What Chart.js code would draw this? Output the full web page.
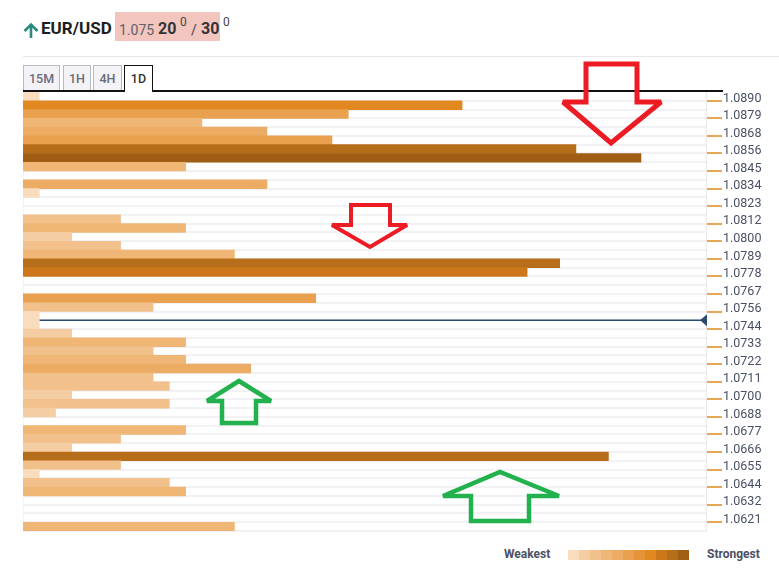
<!DOCTYPE html>
<html>
<head>
<meta charset="utf-8">
<script src="https://cdn.jsdelivr.net/npm/chart.js@4.4.0/dist/chart.umd.min.js"></script>
<style>
  body { margin: 0; background: #fff; font-family: Roboto, 'Noto Sans', sans-serif; }
  #wrap { position: relative; width: 779px; height: 569px; overflow: hidden; }
  .abs { position: absolute; line-height: 1; white-space: nowrap; }
  .tab { position: absolute; top: 65px; height: 25px; box-sizing: border-box; border: 1px solid #b9b9c2; border-bottom: none;
         background: #f2f2f7; color: #6c6c76; font-size: 12.5px; font-weight: 500; text-align: center; line-height: 25px; }
  .tab.on { background: #fff; border: 1.5px solid #111; border-bottom: none; color: #333; }
  #chart { position: absolute; left: 0; top: 0; z-index: 5; pointer-events: none; }
</style>
</head>
<body>
<div id="wrap">
  <svg class="abs" style="left:22px;top:22px" width="18" height="18" viewBox="0 0 18 18">
    <path d="M9 16 V3 M2.5 9 L9 2.5 L15.5 9" fill="none" stroke="#2a8a7b" stroke-width="2.6"/>
  </svg>
  <div class="abs" style="left:41px;top:20px;font-size:17px;font-weight:bold;color:#1d1d22">EUR/USD</div>
  <div class="abs" style="left:115px;top:12px;width:105px;height:29px;background:#f2c5bf"></div>
  <div class="abs" style="left:119px;top:22.5px;font-size:14px;color:#5f5f68">1.075</div>
  <div class="abs" style="left:158px;top:21px;font-size:16px;font-weight:bold;color:#333">20</div>
  <div class="abs" style="left:180px;top:16px;font-size:12px;color:#444">0</div>
  <div class="abs" style="left:191px;top:22.5px;font-size:14px;color:#444">/</div>
  <div class="abs" style="left:201px;top:21px;font-size:16px;font-weight:bold;color:#333">30</div>
  <div class="abs" style="left:223px;top:16px;font-size:12px;color:#444">0</div>

  <div class="abs" style="left:23px;top:56px;width:756px;height:1px;background:#e6e6ec"></div>

  <div class="tab" style="left:23px;width:37px">15M</div>
  <div class="tab" style="left:63px;width:28px">1H</div>
  <div class="tab" style="left:93px;width:29px">4H</div>
  <div class="tab on" style="left:124px;width:29px;height:27px">1D</div>
  <div class="abs" style="left:23px;top:90px;width:101px;height:1.5px;background:#111"></div>
  <div class="abs" style="left:152px;top:90px;width:571px;height:1.5px;background:#111"></div>

  <div class="abs" style="left:504px;top:548px;font-size:12px;font-weight:bold;color:#4a5064">Weakest</div>
  <div id="swatches" class="abs" style="left:568px;top:550px;height:10px;display:flex"></div>
  <div class="abs" style="left:707px;top:548px;font-size:12px;font-weight:bold;color:#4a5064">Strongest</div>

  <canvas id="chart" width="779" height="569"></canvas>
</div>
<script>
// price levels printed on the right axis, top to bottom
const priceLabels = ['1.0890', '1.0879', '1.0868', '1.0856', '1.0845', '1.0834', '1.0823', '1.0812', '1.0800',
  '1.0789', '1.0778', '1.0767', '1.0756', '1.0744', '1.0733', '1.0722', '1.0711', '1.0700', '1.0688',
  '1.0677', '1.0666', '1.0655', '1.0644', '1.0632', '1.0621'];

// confluence strength per row (two rows per printed level), top to bottom
const strength = [1, 27, 20, 11, 15, 19, 34, 38, 10, 0,
  15, 1, 0, 0, 6, 10, 3, 6, 13, 33,
  31, 0, 0, 18, 8, 1, 1, 3, 10, 8,
  10, 14, 8, 9, 3, 9, 2, 0, 10, 6,
  3, 36, 6, 1, 9, 10, 0, 0, 0, 13];

// level where the current price marker sits
const spotLevel = 1.0747;

// weakest -> strongest
const palette = ['#f8dcbd', '#f4cda3', '#f1c08b', '#efb676', '#edac63', '#e9a04f',
  '#e6943a', '#e28820', '#cc781a', '#b76e1a', '#a05e14'];

const rowLabels = strength.map((_, i) => i % 2 ? '' : priceLabels[i / 2]);
const maxStrength = Math.max(...strength);

const sw = document.getElementById('swatches');
palette.forEach(c => {
  const d = document.createElement('div');
  d.style.cssText = `width:11px;height:10px;background:${c}`;
  sw.appendChild(d);
});

function levelToRow(p) {
  const vals = priceLabels.map(Number);
  for (let k = 0; k < vals.length - 1; k++) {
    if (p <= vals[k] && p >= vals[k + 1]) {
      return 2 * k + 2 * (vals[k] - p) / (vals[k] - vals[k + 1]);
    }
  }
  return 0;
}

// hand drawn arrows on top of the picture
const arrows = [
  { color: '#ed1c24', width: 5, pts: [[586, 64], [637, 64], [637, 102], [661, 102], [611, 143], [563, 102], [586, 102]] },
  { color: '#ed1c24', width: 4, pts: [[351, 205], [390, 205], [390, 225], [407, 225], [370, 247], [332, 225], [351, 225]] },
  { color: '#22b14c', width: 4.5, pts: [[222, 423], [256, 423], [256, 401], [271, 401], [239, 381], [207, 401], [222, 401]] },
  { color: '#22b14c', width: 4.5, pts: [[471, 521], [529, 521], [529, 496], [559, 496], [500, 472], [443, 496], [471, 496]] }
];

const overlay = {
  id: 'overlay',
  beforeDatasetsDraw(chart) {
    const { ctx, chartArea } = chart;
    const y = chart.scales.y.getPixelForValue(levelToRow(spotLevel));
    ctx.save();
    ctx.strokeStyle = '#2b4a6f';
    ctx.lineWidth = 1.5;
    ctx.beginPath();
    ctx.moveTo(chartArea.left, y);
    ctx.lineTo(chartArea.right, y);
    ctx.stroke();
    ctx.fillStyle = '#2b4a6f';
    ctx.beginPath();
    ctx.moveTo(chartArea.right - 6, y);
    ctx.lineTo(chartArea.right + 1, y - 6);
    ctx.lineTo(chartArea.right + 1, y + 6);
    ctx.closePath();
    ctx.fill();
    ctx.restore();
  },
  afterDraw(chart) {
    const ctx = chart.ctx;
    ctx.save();
    ctx.lineJoin = 'miter';
    ctx.miterLimit = 1.6;
    arrows.forEach(a => {
      ctx.strokeStyle = a.color;
      ctx.lineWidth = a.width;
      ctx.beginPath();
      a.pts.forEach((p, i) => i ? ctx.lineTo(p[0], p[1]) : ctx.moveTo(p[0], p[1]));
      ctx.closePath();
      ctx.stroke();
    });
    ctx.restore();
  }
};

new Chart(document.getElementById('chart').getContext('2d'), {
  type: 'bar',
  data: {
    labels: rowLabels,
    datasets: [{
      data: strength,
      backgroundColor: c => palette[Math.round(c.raw / maxStrength * 10)],
      barPercentage: 1,
      categoryPercentage: 1,
      borderWidth: 0
    }]
  },
  options: {
    indexAxis: 'y',
    responsive: false,
    animation: false,
    devicePixelRatio: 1,
    layout: { padding: { left: 23, top: 92, bottom: 38, right: 0 } },
    plugins: { legend: { display: false }, tooltip: { enabled: false } },
    scales: {
      x: { display: false, min: 0, max: 42 },
      y: {
        position: 'right',
        afterFit: s => { s.width = 73; },
        grid: {
          color: c => c.index === 0 ? 'rgba(0,0,0,0)' : '#f1f1f6',
          lineWidth: 2,
          tickLength: 16,
          tickWidth: 1.5,
          tickColor: c => c.index % 2 === 1 ? '#e08a20' : 'rgba(0,0,0,0)'
        },
        border: { color: '#e8e8ee', width: 1 },
        ticks: {
          autoSkip: false,
          padding: 1,
          labelOffset: 2,
          color: '#4a5064',
          font: { family: 'Roboto', size: 12.5 },
          callback: (v, i) => rowLabels[i]
        }
      }
    }
  },
  plugins: [overlay]
});
</script>
</body>
</html>
